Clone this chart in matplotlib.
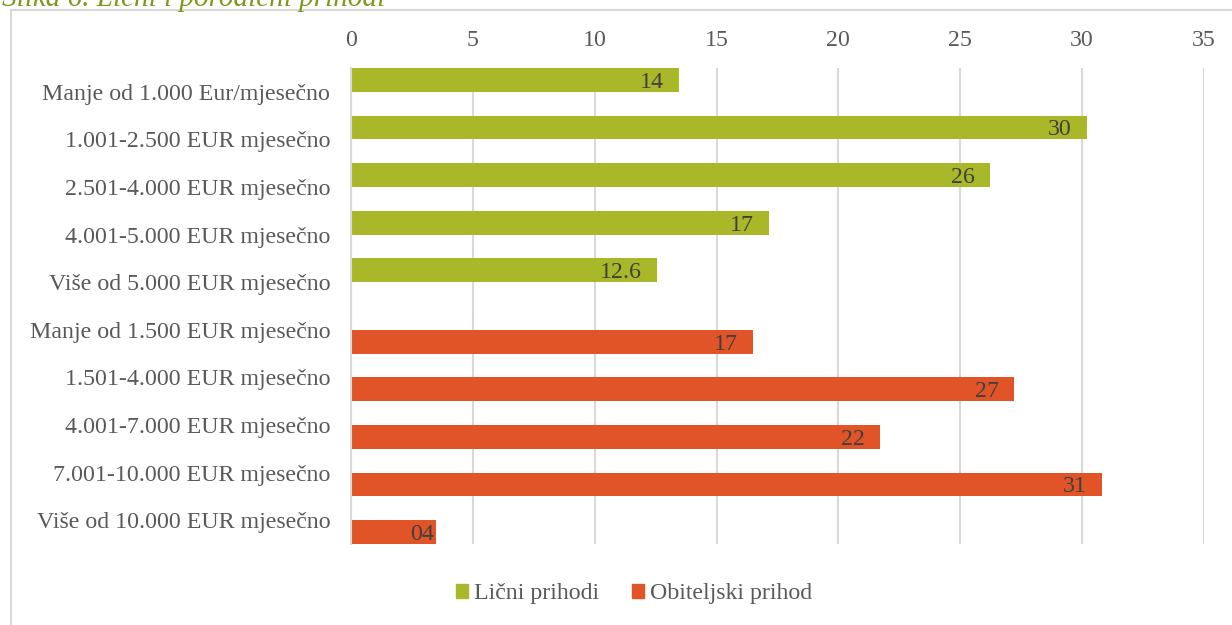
import numpy as np
import matplotlib
matplotlib.use("Agg")
import matplotlib.pyplot as plt
from matplotlib.lines import Line2D
from matplotlib.patches import Patch

plt.rcParams["font.family"] = ["Liberation Serif", "DejaVu Serif"]

categories = [
    "Manje od 1.000 Eur/mjesečno",
    "1.001-2.500 EUR mjesečno",
    "2.501-4.000 EUR mjesečno",
    "4.001-5.000 EUR mjesečno",
    "Više od 5.000 EUR mjesečno",
    "Manje od 1.500 EUR mjesečno",
    "1.501-4.000 EUR mjesečno",
    "4.001-7.000 EUR mjesečno",
    "7.001-10.000 EUR mjesečno",
    "Više od 10.000 EUR mjesečno",
]
licni = [13.45, 30.2, 26.2, 17.15, 12.55, 0, 0, 0, 0, 0]
licni_labels = ["14", "30", "26", "17", "12.6", "", "", "", "", ""]
obiteljski = [0, 0, 0, 0, 0, 16.5, 27.2, 21.7, 30.8, 3.5]
obiteljski_labels = ["", "", "", "", "", "17", "27", "22", "31", "04"]
ticks = [0, 5, 10, 15, 20, 25, 30, 35]

green = "#A8B828"
orange = "#E05427"
grid_c = "#D9D9D9"
text_c = "#595959"
fs = 17.2

fig = plt.figure(figsize=(12.32, 6.25), dpi=100)
ax = fig.add_axes([351 / 1232, 1 - 544 / 625, (1204 - 351) / 1232, (544 - 68) / 625])

y = np.arange(len(categories))
bars1 = ax.barh(y - 0.25, licni, height=0.5, color=green, label="Lični prihodi", zorder=2)
bars2 = ax.barh(y + 0.25, obiteljski, height=0.5, color=orange, label="Obiteljski prihod", zorder=2)

for bars, labels in [(bars1, licni_labels), (bars2, obiteljski_labels)]:
    for b, lab in zip(bars, labels):
        if not lab:
            continue
        w = b.get_width()
        pad = -11 if w > 5 else -1.5
        ax.annotate(lab, (w, b.get_y() + b.get_height() / 2), xytext=(pad, 0),
                    textcoords="offset points", ha="right", va="center_baseline",
                    fontsize=fs, color="#404040", zorder=3)

ax.set_xlim(0, 35)
ax.set_ylim(len(categories) - 0.5, -0.5)
ax.set_xticks(ticks)
ax.xaxis.tick_top()
ax.set_yticks(y)
ax.set_yticklabels(categories)
ax.tick_params(axis="x", length=0, pad=12, labelsize=fs, labelcolor=text_c)
ax.tick_params(axis="y", length=0, pad=15, labelsize=fs, labelcolor=text_c)
ax.grid(axis="x", color=grid_c, linewidth=1.5, zorder=0)
for s in ["top", "right", "bottom"]:
    ax.spines[s].set_visible(False)
ax.spines["left"].set_color(grid_c)
ax.spines["left"].set_linewidth(1.5)

handles = [Patch(color=green, label="Lični prihodi"), Patch(color=orange, label="Obiteljski prihod")]
leg = fig.legend(handles=handles, loc="center", bbox_to_anchor=(634 / 1232, 1 - 594 / 625),
                 ncol=2, frameon=False, fontsize=fs, handlelength=0.5, handleheight=0.5,
                 handletextpad=0.25, columnspacing=1.4)
for t in leg.get_texts():
    t.set_color(text_c)

# outer chart frame (only left and top visible in the crop)
fig.add_artist(Line2D([11 / 1232, 11 / 1232], [0, 1 - 10 / 625], color=grid_c, linewidth=1.5))
fig.add_artist(Line2D([11 / 1232, 1], [1 - 10 / 625, 1 - 10 / 625], color=grid_c, linewidth=1.5))

# caption above, cut off by the crop
fig.text(2 / 1232, 1 - 5.5 / 625, "Slika 6. Lični i porodični prihodi", ha="left", va="baseline",
         fontsize=21, style="italic", color="#7A9A1E")

fig.savefig("out.png", dpi=100)
